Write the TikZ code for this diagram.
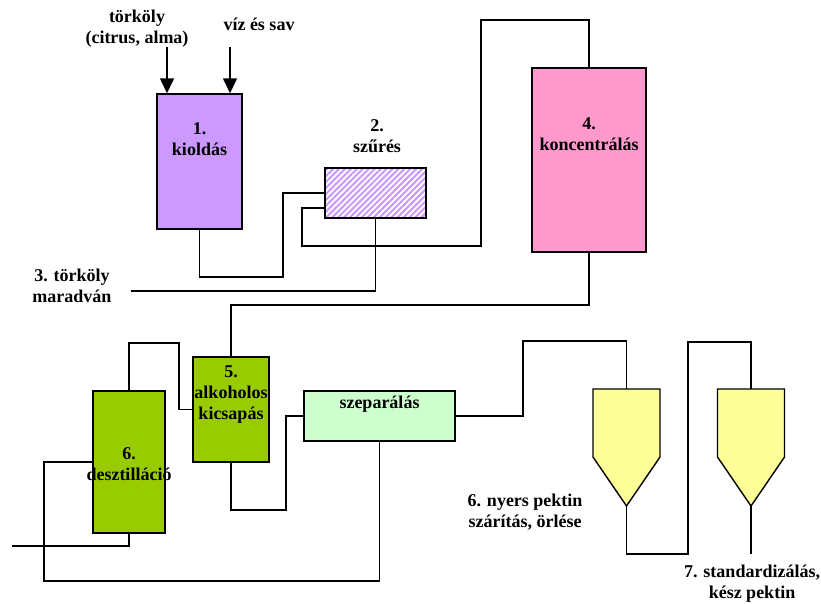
\documentclass[tikz,border=0pt]{standalone}
\usepackage{fontspec}
\setmainfont{Liberation Serif}
\usetikzlibrary{arrows.meta, patterns.meta}
\definecolor{lila}{RGB}{204, 153, 255}
\definecolor{rozsa}{RGB}{255, 153, 204}
\definecolor{zold}{RGB}{153, 204, 0}
\definecolor{halvany}{RGB}{204, 255, 204}
\definecolor{sarga}{RGB}{255, 255, 153}

\begin{document}
\begin{tikzpicture}[x=1pt, y=-1pt,
        every node/.style={font=\bfseries\fontsize{18}{21}\selectfont, align=center},
        box/.style={draw, line width=1.4pt, inner sep=0pt},
        txt/.style={anchor=north, align=center, inner sep=0pt},
        pipe/.style={line width=1.4pt},
        arr/.style={-{Triangle[width=14pt, length=15pt]}, line width=1.4pt},
        pics/hopper/.style={code={
          \draw[line width=1.4pt, fill=sarga] (-33.5,0) -- (33.5,0) -- (33.5,68) -- (0,117) -- (-33.5,68) -- cycle;
          \coordinate (-top) at (0,0);
          \coordinate (-tip) at (0,117);
        }}
      ]
        \useasboundingbox (0,0) rectangle (821,603);
        % gepek
        \node[box, fill=lila, minimum width=85pt, minimum height=135pt,
              label={[txt, yshift=-29pt]north:{1.\\kioldás}}] (k) at (199.5,161.5) {};
        \node[box, pattern={Lines[angle=45, distance=4.2pt, line width=2.1pt]}, pattern color=lila,
              minimum width=101pt, minimum height=50pt] (f) at (375.5,193) {};
        \node[box, fill=rozsa, minimum width=114pt, minimum height=184pt,
              label={[txt, yshift=-50pt]north:{4.\\koncentrálás}}] (m) at (589,160) {};
        \node[box, fill=zold, minimum width=76pt, minimum height=105pt,
              label={[txt, yshift=-9pt]north:{5.\\alkoholos\\kicsapás}}] (a) at (231,409.5) {};
        \node[box, fill=zold, minimum width=72pt, minimum height=142pt,
              label={[txt, yshift=-57pt]north:{6.\\desztilláció}}] (d) at (129,462) {};
        \node[box, fill=halvany, minimum width=151pt, minimum height=50pt,
              label={[txt, yshift=-5pt]north:{szeparálás}}] (s) at (379.5,416) {};
        \pic (h1) at (626.5,389) {hopper};
        \pic (h2) at (751,389) {hopper};

        % feliratok
        \node (t1) at (137,28.5) {törköly\\(citrus, alma)};
        \node (t2) at (259,24) {víz és sav};
        \node (t3) at (377,136.5) {2.\\szűrés};
        \node (t4) at (72,286) {3. törköly\\maradván};
        \node (t5) at (525,512) {6. nyers pektin\\szárítás, örlése};
        \node (t6) at (752,584) {7. standardizálás,\\kész pektin};

        % vezetekek
        \coordinate (in1) at (167,47);
        \coordinate (in2) at (230,47);
        \coordinate (out3) at (131,291);
        \coordinate (out6) at (12,546);
        \coordinate (out7) at (751,554);
        \draw[arr] (in1) -- (in1 |- k.north);
        \draw[arr] (in2) -- (in2 |- k.north);
        \draw[pipe] (k.south) |- (283,277) |- (f.west);
        \draw[pipe] ([yshift=-15pt]f.west) -| (302,246) -| (481,20) -| (m.north);
        \draw[pipe] (f.south) |- (out3);
        \draw[pipe] (m.south) |- (231,305) -- (a.north);
        \draw[pipe] (a.west) -| (179,343) -| (d.north);
        \draw[pipe] (d.south) |- (out6);
        \draw[pipe] (d.west) -| (44,581) -| (s.south);
        \draw[pipe] (a.south) |- (286,510) |- (s.west);
        \draw[pipe] (s.east) -| (523,341) -| (h1-top);
        \draw[pipe] (h1-tip) |- (688,554) |- (751,342) -- (h2-top);
        \draw[pipe] (h2-tip) -- (out7);
      \end{tikzpicture}
\end{document}
